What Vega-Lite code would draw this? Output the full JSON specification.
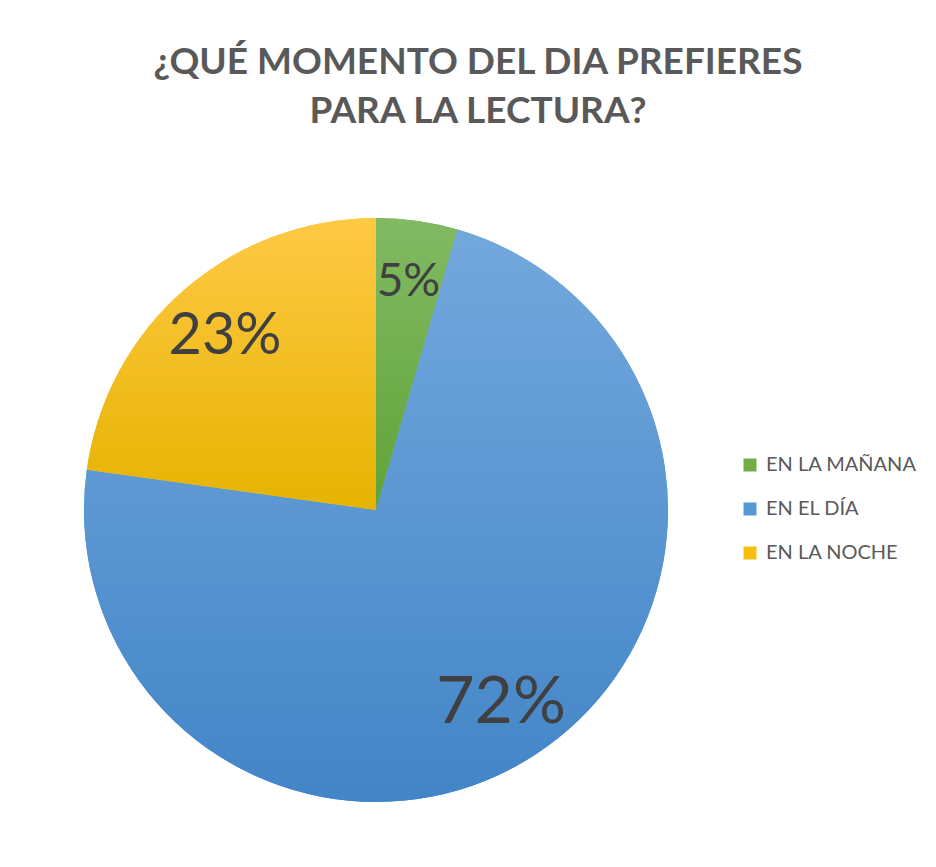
{
  "$schema": "https://vega.github.io/schema/vega-lite/v6.json",
  "autosize": {"type": "none"},
  "padding": {"left": 84, "top": 218, "right": 268, "bottom": 65},
  "width": 584,
  "height": 584,
  "background": "white",
  "config": {"view": {"stroke": null}, "font": "Lato"},
  "title": {
    "text": ["¿QUÉ MOMENTO DEL DIA PREFIERES", "PARA LA LECTURA?"],
    "font": "Lato",
    "fontSize": 37,
    "fontWeight": "bold",
    "color": "#595959",
    "anchor": "middle",
    "frame": "group",
    "dx": 102,
    "offset": 87,
    "lineHeight": 49
  },
  "data": {
    "values": [
      {"momento": "EN LA MAÑANA", "pct": 4.5, "etiqueta": "5%", "orden": 1},
      {"momento": "EN EL DÍA", "pct": 72.7, "etiqueta": "72%", "orden": 2},
      {"momento": "EN LA NOCHE", "pct": 22.8, "etiqueta": "23%", "orden": 3}
    ]
  },
  "layer": [
    {
      "mark": {"type": "arc", "outerRadius": 292},
      "encoding": {
        "theta": {"field": "pct", "type": "quantitative", "stack": true, "scale": {"domain": [0, 100]}},
        "order": {"field": "orden", "type": "quantitative"},
        "color": {
          "field": "momento",
          "type": "nominal",
          "sort": ["EN LA MAÑANA", "EN EL DÍA", "EN LA NOCHE"],
          "scale": {
            "domain": ["EN LA MAÑANA", "EN EL DÍA", "EN LA NOCHE"],
            "range": ["#70AD47", "#5699D5", "#F7BE10"]
          },
          "legend": {
            "title": null,
            "orient": "none",
            "legendX": 656,
            "legendY": 237,
            "symbolType": "square",
            "symbolSize": 169,
            "symbolStrokeWidth": 0,
            "labelFont": "Lato",
            "labelFontSize": 20,
            "labelColor": "#595959",
            "rowPadding": 24,
            "labelOffset": 6
          }
        }
      }
    },
    {
      "transform": [
        {"stack": "pct", "groupby": [], "sort": [{"field": "orden"}], "as": ["t0", "t1"]},
        {"filter": "datum.orden == 1"}
      ],
      "mark": {
        "type": "arc",
        "outerRadius": 292,
        "color": {"gradient": "linear", "x1": 0, "y1": 0, "x2": 0, "y2": 1,
          "stops": [{"offset": 0, "color": "#82BA63"}, {"offset": 1, "color": "#60A338"}]}
      },
      "encoding": {
        "theta": {"field": "t0", "type": "quantitative"},
        "theta2": {"field": "t1"}
      }
    },
    {
      "transform": [
        {"stack": "pct", "groupby": [], "sort": [{"field": "orden"}], "as": ["t0", "t1"]},
        {"filter": "datum.orden == 2"}
      ],
      "mark": {
        "type": "arc",
        "outerRadius": 292,
        "color": {"gradient": "linear", "x1": 0, "y1": 0, "x2": 0, "y2": 1,
          "stops": [{"offset": 0, "color": "#73A8DD"}, {"offset": 1, "color": "#4285C7"}]}
      },
      "encoding": {
        "theta": {"field": "t0", "type": "quantitative"},
        "theta2": {"field": "t1"}
      }
    },
    {
      "transform": [
        {"stack": "pct", "groupby": [], "sort": [{"field": "orden"}], "as": ["t0", "t1"]},
        {"filter": "datum.orden == 3"}
      ],
      "mark": {
        "type": "arc",
        "outerRadius": 292,
        "color": {"gradient": "linear", "x1": 0, "y1": 0, "x2": 0, "y2": 1,
          "stops": [{"offset": 0, "color": "#FFC945"}, {"offset": 1, "color": "#E5B300"}]}
      },
      "encoding": {
        "theta": {"field": "t0", "type": "quantitative"},
        "theta2": {"field": "t1"}
      }
    },
    {
      "mark": {"type": "text", "radius": 230, "font": "Lato", "color": "#404040"},
      "encoding": {
        "theta": {"field": "pct", "type": "quantitative", "stack": true},
        "order": {"field": "orden", "type": "quantitative"},
        "text": {"field": "etiqueta", "type": "nominal"},
        "size": {
          "field": "pct",
          "type": "quantitative",
          "scale": {"type": "log", "domain": [4.5, 72.7], "range": [46, 66]},
          "legend": null
        }
      }
    }
  ]
}
